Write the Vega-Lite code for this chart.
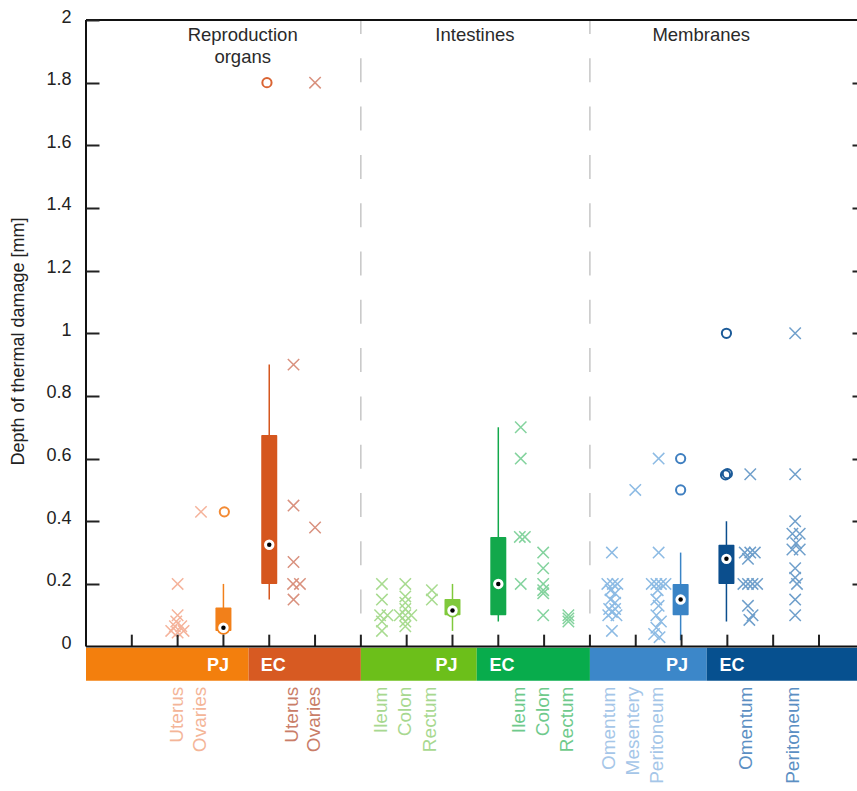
{
  "$schema": "https://vega.github.io/schema/vega-lite/v6.json",
  "width": 771,
  "height": 771,
  "autosize": {"type": "none"},
  "padding": {"left": 86, "top": 20, "right": 0, "bottom": 0},
  "background": "white",
  "config": {"view": {"stroke": null}, "font": "Liberation Sans", "axis": {"grid": false}, "scale": {"continuousPadding": 0}},
  "datasets": {
    "seps": [{"x": 6}, {"x": 11}],
    "xticks": [{"k": 1}, {"k": 2}, {"k": 3}, {"k": 4}, {"k": 5}, {"k": 6}, {"k": 7}, {"k": 8}, {"k": 9}, {"k": 10}, {"k": 11}, {"k": 12}, {"k": 13}, {"k": 14}, {"k": 15}, {"k": 16}],
    "crosses": [
      {"g": "RPJ", "x": 2.0, "v": 0.2}, {"g": "RPJ", "x": 2.0, "v": 0.1}, {"g": "RPJ", "x": 1.97, "v": 0.08}, {"g": "RPJ", "x": 1.94, "v": 0.065}, {"g": "RPJ", "x": 2.08, "v": 0.065}, {"g": "RPJ", "x": 1.86, "v": 0.05}, {"g": "RPJ", "x": 2.13, "v": 0.05}, {"g": "RPJ", "x": 2.0, "v": 0.045}, {"g": "RPJ", "x": 2.51, "v": 0.43},
      {"g": "REC", "x": 4.53, "v": 0.9}, {"g": "REC", "x": 4.53, "v": 0.45}, {"g": "REC", "x": 4.53, "v": 0.27}, {"g": "REC", "x": 4.52, "v": 0.2}, {"g": "REC", "x": 4.67, "v": 0.2}, {"g": "REC", "x": 4.53, "v": 0.15}, {"g": "REC", "x": 5.0, "v": 0.38}, {"g": "REC", "x": 5.0, "v": 1.8},
      {"g": "IPJ", "x": 6.46, "v": 0.2}, {"g": "IPJ", "x": 6.46, "v": 0.15}, {"g": "IPJ", "x": 6.42, "v": 0.1}, {"g": "IPJ", "x": 6.58, "v": 0.1}, {"g": "IPJ", "x": 6.46, "v": 0.08}, {"g": "IPJ", "x": 6.46, "v": 0.05},
      {"g": "IPJ", "x": 6.97, "v": 0.2}, {"g": "IPJ", "x": 6.97, "v": 0.16}, {"g": "IPJ", "x": 6.97, "v": 0.14}, {"g": "IPJ", "x": 6.97, "v": 0.12}, {"g": "IPJ", "x": 6.85, "v": 0.1}, {"g": "IPJ", "x": 7.1, "v": 0.1}, {"g": "IPJ", "x": 6.97, "v": 0.1}, {"g": "IPJ", "x": 6.97, "v": 0.08}, {"g": "IPJ", "x": 6.97, "v": 0.065},
      {"g": "IPJ", "x": 7.55, "v": 0.18}, {"g": "IPJ", "x": 7.55, "v": 0.15},
      {"g": "IEC", "x": 9.49, "v": 0.7}, {"g": "IEC", "x": 9.49, "v": 0.6}, {"g": "IEC", "x": 9.47, "v": 0.35}, {"g": "IEC", "x": 9.58, "v": 0.35}, {"g": "IEC", "x": 9.49, "v": 0.2},
      {"g": "IEC", "x": 9.98, "v": 0.3}, {"g": "IEC", "x": 9.98, "v": 0.25}, {"g": "IEC", "x": 9.98, "v": 0.2}, {"g": "IEC", "x": 9.98, "v": 0.18}, {"g": "IEC", "x": 9.98, "v": 0.17}, {"g": "IEC", "x": 9.98, "v": 0.1},
      {"g": "IEC", "x": 10.53, "v": 0.1}, {"g": "IEC", "x": 10.53, "v": 0.09}, {"g": "IEC", "x": 10.53, "v": 0.08},
      {"g": "MPJ", "x": 11.48, "v": 0.3}, {"g": "MPJ", "x": 11.38, "v": 0.2}, {"g": "MPJ", "x": 11.5, "v": 0.2}, {"g": "MPJ", "x": 11.6, "v": 0.2}, {"g": "MPJ", "x": 11.45, "v": 0.18}, {"g": "MPJ", "x": 11.55, "v": 0.17}, {"g": "MPJ", "x": 11.45, "v": 0.15}, {"g": "MPJ", "x": 11.55, "v": 0.14}, {"g": "MPJ", "x": 11.42, "v": 0.12}, {"g": "MPJ", "x": 11.55, "v": 0.12}, {"g": "MPJ", "x": 11.48, "v": 0.11}, {"g": "MPJ", "x": 11.4, "v": 0.1}, {"g": "MPJ", "x": 11.58, "v": 0.1}, {"g": "MPJ", "x": 11.48, "v": 0.05},
      {"g": "MPJ", "x": 11.99, "v": 0.5},
      {"g": "MPJ", "x": 12.5, "v": 0.6}, {"g": "MPJ", "x": 12.5, "v": 0.3}, {"g": "MPJ", "x": 12.35, "v": 0.2}, {"g": "MPJ", "x": 12.45, "v": 0.2}, {"g": "MPJ", "x": 12.55, "v": 0.2}, {"g": "MPJ", "x": 12.65, "v": 0.2}, {"g": "MPJ", "x": 12.48, "v": 0.18}, {"g": "MPJ", "x": 12.45, "v": 0.15}, {"g": "MPJ", "x": 12.5, "v": 0.13}, {"g": "MPJ", "x": 12.45, "v": 0.1}, {"g": "MPJ", "x": 12.55, "v": 0.08}, {"g": "MPJ", "x": 12.45, "v": 0.06}, {"g": "MPJ", "x": 12.4, "v": 0.04}, {"g": "MPJ", "x": 12.52, "v": 0.03},
      {"g": "MEC", "x": 14.5, "v": 0.55}, {"g": "MEC", "x": 14.38, "v": 0.3}, {"g": "MEC", "x": 14.5, "v": 0.3}, {"g": "MEC", "x": 14.6, "v": 0.3}, {"g": "MEC", "x": 14.45, "v": 0.28}, {"g": "MEC", "x": 14.35, "v": 0.2}, {"g": "MEC", "x": 14.45, "v": 0.2}, {"g": "MEC", "x": 14.55, "v": 0.2}, {"g": "MEC", "x": 14.65, "v": 0.2}, {"g": "MEC", "x": 14.45, "v": 0.13}, {"g": "MEC", "x": 14.55, "v": 0.1}, {"g": "MEC", "x": 14.48, "v": 0.085},
      {"g": "MEC", "x": 15.48, "v": 1.0}, {"g": "MEC", "x": 15.48, "v": 0.55}, {"g": "MEC", "x": 15.48, "v": 0.4}, {"g": "MEC", "x": 15.42, "v": 0.36}, {"g": "MEC", "x": 15.58, "v": 0.36}, {"g": "MEC", "x": 15.5, "v": 0.33}, {"g": "MEC", "x": 15.42, "v": 0.31}, {"g": "MEC", "x": 15.58, "v": 0.31}, {"g": "MEC", "x": 15.48, "v": 0.25}, {"g": "MEC", "x": 15.48, "v": 0.22}, {"g": "MEC", "x": 15.52, "v": 0.2}, {"g": "MEC", "x": 15.48, "v": 0.15}, {"g": "MEC", "x": 15.48, "v": 0.1}
    ],
    "outliers": [
      {"g": "RPJ", "x": 3.02, "v": 0.43}, {"g": "REC", "x": 3.95, "v": 1.8},
      {"g": "MPJ", "x": 12.98, "v": 0.6}, {"g": "MPJ", "x": 12.98, "v": 0.5},
      {"g": "MEC", "x": 13.98, "v": 1.0}, {"g": "MEC", "x": 13.96, "v": 0.548}, {"g": "MEC", "x": 14.0, "v": 0.552}
    ],
    "boxes": [
      {"g": "RPJ", "x": 3.0, "lo": 0.05, "q1": 0.05, "med": 0.06, "q3": 0.125, "hi": 0.2},
      {"g": "REC", "x": 4.0, "lo": 0.15, "q1": 0.2, "med": 0.325, "q3": 0.675, "hi": 0.9},
      {"g": "IPJ", "x": 8.0, "lo": 0.05, "q1": 0.1, "med": 0.115, "q3": 0.152, "hi": 0.2},
      {"g": "IEC", "x": 9.0, "lo": 0.08, "q1": 0.1, "med": 0.2, "q3": 0.35, "hi": 0.7},
      {"g": "MPJ", "x": 12.98, "lo": 0.02, "q1": 0.1, "med": 0.15, "q3": 0.2, "hi": 0.3},
      {"g": "MEC", "x": 13.98, "lo": 0.08, "q1": 0.2, "med": 0.28, "q3": 0.325, "hi": 0.4}
    ],
    "bands": [
      {"g": "RPJ", "a": 0, "b": 3.55}, {"g": "REC", "a": 3.55, "b": 6},
      {"g": "IPJ", "a": 6, "b": 8.53}, {"g": "IEC", "a": 8.53, "b": 11},
      {"g": "MPJ", "a": 11, "b": 13.55}, {"g": "MEC", "a": 13.55, "b": 16.83}
    ],
    "bandtext": [
      {"t": "PJ", "x": 2.88}, {"t": "EC", "x": 4.09},
      {"t": "PJ", "x": 7.87}, {"t": "EC", "x": 9.08},
      {"t": "PJ", "x": 12.9}, {"t": "EC", "x": 14.1}
    ],
    "labels": [
      {"g": "RPJ", "x": 1.99, "t": "Uterus"}, {"g": "RPJ", "x": 2.48, "t": "Ovaries"},
      {"g": "REC", "x": 4.5, "t": "Uterus"}, {"g": "REC", "x": 4.98, "t": "Ovaries"},
      {"g": "IPJ", "x": 6.43, "t": "Ileum"}, {"g": "IPJ", "x": 6.97, "t": "Colon"}, {"g": "IPJ", "x": 7.5, "t": "Rectum"},
      {"g": "IEC", "x": 9.45, "t": "Ileum"}, {"g": "IEC", "x": 9.98, "t": "Colon"}, {"g": "IEC", "x": 10.51, "t": "Rectum"},
      {"g": "MPJ", "x": 11.42, "t": "Omentum"}, {"g": "MPJ", "x": 11.93, "t": "Mesentery"}, {"g": "MPJ", "x": 12.46, "t": "Peritoneum"},
      {"g": "MEC", "x": 14.4, "t": "Omentum"}, {"g": "MEC", "x": 15.44, "t": "Peritoneum"}
    ],
    "headers": [
      {"x": 3.42, "t": "Reproduction\norgans"},
      {"x": 8.49, "t": "Intestines"},
      {"x": 13.43, "t": "Membranes"}
    ]
  },
  "layer": [
    {
      "data": {"name": "seps"},
      "mark": {"type": "rule", "color": "#b8b8b8", "strokeWidth": 1.2, "strokeDash": [24, 24.3], "strokeDashOffset": 10},
      "encoding": {
        "x": {"field": "x", "type": "quantitative", "scale": {"domain": [0, 16.83], "nice": false, "zero": false, "padding": 0},
          "axis": {"orient": "bottom", "offset": -156.1, "zindex": 1, "values": [1,2,3,4,5,6,7,8,9,10,11,12,13,14,15,16], "labels": false, "domain": false, "tickSize": 12, "tickWidth": 2, "tickColor": "#222", "title": null}},
        "y": {"datum": 2, "type": "quantitative", "scale": {"domain": [-0.461, 2], "nice": false, "zero": false},
          "axis": {"orient": "right", "offset": -771, "zindex": 1, "values": [0.2,0.4,0.6,0.8,1,1.2,1.4,1.6,1.8,2], "domain": false, "labels": false, "tickSize": 13, "tickWidth": 2, "tickColor": "#222", "title": null}},
        "y2": {"datum": 0}
      }
    },
    {
      "data": {"name": "crosses"},
      "mark": {"type": "point", "shape": "M-1,-1L1,1M-1,1L1,-1", "filled": false, "size": 130, "strokeWidth": 1.5, "opacity": 1},
      "encoding": {
        "x": {"field": "x", "type": "quantitative", "scale": {"domain": [0, 16.83], "nice": false, "zero": false, "padding": 0}, "axis": null},
        "y": {"field": "v", "type": "quantitative", "scale": {"domain": [-0.461, 2], "nice": false, "zero": false},
          "axis": {"orient": "left", "values": [0,0.2,0.4,0.6,0.8,1,1.2,1.4,1.6,1.8,2], "format": "~g", "domain": false, "ticks": false, "labelFontSize": 18, "labelColor": "#222", "labelPadding": 15, "labelOffset": -3, "labelFont": "Liberation Sans",
            "title": "Depth of thermal damage [mm]", "titleFont": "Liberation Sans", "titleFontSize": 18, "titleFontWeight": "normal", "titleColor": "#222", "titleX": -68, "titleY": 321, "titleAngle": -90, "titleBaseline": "middle", "titleAlign": "center"}},
        "color": {"field": "g", "type": "nominal", "legend": null,
          "scale": {"domain": ["RPJ", "REC", "IPJ", "IEC", "MPJ", "MEC"], "range": ["#f5b39b", "#d9917e", "#a8db90", "#84d39e", "#8dbbe4", "#6f9fcb"]}}
      }
    },
    {
      "data": {"name": "outliers"},
      "mark": {"type": "point", "shape": "circle", "filled": false, "size": 85, "strokeWidth": 2, "opacity": 1},
      "encoding": {
        "x": {"field": "x", "type": "quantitative", "scale": {"domain": [0, 16.83], "nice": false, "zero": false, "padding": 0}, "axis": null},
        "y": {"field": "v", "type": "quantitative", "scale": {"domain": [-0.461, 2], "nice": false, "zero": false}, "axis": null},
        "color": {"field": "g", "type": "nominal", "legend": null,
          "scale": {"domain": ["RPJ", "REC", "MPJ", "MEC"], "range": ["#f38a34", "#da6433", "#3f7fc0", "#1b5a98"]}}
      }
    },
    {
      "data": {"name": "boxes"},
      "mark": {"type": "rule", "strokeWidth": 1.5},
      "encoding": {
        "x": {"field": "x", "type": "quantitative", "scale": {"domain": [0, 16.83], "nice": false, "zero": false, "padding": 0}, "axis": null},
        "y": {"field": "lo", "type": "quantitative", "scale": {"domain": [-0.461, 2], "nice": false, "zero": false},
          "axis": {"orient": "left", "offset": -771, "zindex": 1, "values": [0.2,0.4,0.6,0.8,1,1.2,1.4,1.6,1.8], "domain": false, "labels": false, "tickSize": 5, "tickWidth": 2, "tickColor": "#222", "title": null}},
        "y2": {"field": "hi"},
        "color": {"field": "g", "type": "nominal", "legend": null,
          "scale": {"domain": ["RPJ", "REC", "IPJ", "IEC", "MPJ", "MEC"], "range": ["#f2801a", "#d5561e", "#80c93c", "#12a84b", "#3a84c6", "#0b4e8d"]}}
      }
    },
    {
      "data": {"name": "boxes"},
      "mark": {"type": "bar", "size": 16, "cornerRadius": 1},
      "encoding": {
        "x": {"field": "x", "type": "quantitative", "scale": {"domain": [0, 16.83], "nice": false, "zero": false, "padding": 0}, "axis": null},
        "y": {"field": "q1", "type": "quantitative", "scale": {"domain": [-0.461, 2], "nice": false, "zero": false}, "axis": null},
        "y2": {"field": "q3"},
        "color": {"field": "g", "type": "nominal", "legend": null,
          "scale": {"domain": ["RPJ", "REC", "IPJ", "IEC", "MPJ", "MEC"], "range": ["#f2801a", "#d5561e", "#80c93c", "#12a84b", "#3a84c6", "#0b4e8d"]}}
      }
    },
    {
      "data": {"name": "boxes"},
      "mark": {"type": "point", "shape": "circle", "filled": true, "fill": "white", "fillOpacity": 1, "size": 150, "strokeWidth": 1.8, "opacity": 1},
      "encoding": {
        "x": {"field": "x", "type": "quantitative", "scale": {"domain": [0, 16.83], "nice": false, "zero": false, "padding": 0}, "axis": null},
        "y": {"field": "med", "type": "quantitative", "scale": {"domain": [-0.461, 2], "nice": false, "zero": false}, "axis": null},
        "stroke": {"field": "g", "type": "nominal", "legend": null,
          "scale": {"domain": ["RPJ", "REC", "IPJ", "IEC", "MPJ", "MEC"], "range": ["#f2801a", "#d5561e", "#80c93c", "#12a84b", "#3a84c6", "#0b4e8d"]}}
      }
    },
    {
      "data": {"name": "boxes"},
      "mark": {"type": "point", "shape": "circle", "filled": true, "color": "black", "size": 20, "opacity": 1},
      "encoding": {
        "x": {"field": "x", "type": "quantitative", "scale": {"domain": [0, 16.83], "nice": false, "zero": false, "padding": 0}, "axis": null},
        "y": {"field": "med", "type": "quantitative", "scale": {"domain": [-0.461, 2], "nice": false, "zero": false}, "axis": null}
      }
    },
    {
      "data": {"name": "bands"},
      "mark": {"type": "rect"},
      "encoding": {
        "x": {"field": "a", "type": "quantitative", "scale": {"domain": [0, 16.83], "nice": false, "zero": false, "padding": 0}, "axis": null},
        "x2": {"field": "b"},
        "y": {"datum": -0.004, "type": "quantitative", "scale": {"domain": [-0.461, 2], "nice": false, "zero": false}, "axis": null},
        "y2": {"datum": -0.109},
        "color": {"field": "g", "type": "nominal", "legend": null,
          "scale": {"domain": ["RPJ", "REC", "IPJ", "IEC", "MPJ", "MEC"], "range": ["#f37f0d", "#d75a22", "#6cbf1a", "#08ac4c", "#3c87c9", "#06508f"]}}
      }
    },
    {
      "data": {"name": "bandtext"},
      "mark": {"type": "text", "color": "white", "fontSize": 18, "fontWeight": "bold", "font": "Liberation Sans", "align": "center", "baseline": "alphabetic"},
      "encoding": {
        "x": {"field": "x", "type": "quantitative", "scale": {"domain": [0, 16.83], "nice": false, "zero": false, "padding": 0}, "axis": null},
        "y": {"datum": -0.079, "type": "quantitative", "scale": {"domain": [-0.461, 2], "nice": false, "zero": false}, "axis": null},
        "text": {"field": "t", "type": "nominal"}
      }
    },
    {
      "data": {"name": "labels"},
      "mark": {"type": "text", "fontSize": 19, "font": "Liberation Sans", "angle": 270, "align": "right", "baseline": "middle"},
      "encoding": {
        "x": {"field": "x", "type": "quantitative", "scale": {"domain": [0, 16.83], "nice": false, "zero": false, "padding": 0}, "axis": null},
        "y": {"datum": -0.128, "type": "quantitative", "scale": {"domain": [-0.461, 2], "nice": false, "zero": false}, "axis": null},
        "text": {"field": "t", "type": "nominal"},
        "color": {"field": "g", "type": "nominal", "legend": null,
          "scale": {"domain": ["RPJ", "REC", "IPJ", "IEC", "MPJ", "MEC"], "range": ["#f4b598", "#c97d68", "#a8d890", "#6fca8c", "#a5c6e8", "#5b8fc3"]}}
      }
    },
    {
      "data": {"name": "headers"},
      "mark": {"type": "text", "fontSize": 18.5, "font": "Liberation Sans", "color": "#2a2a2a", "align": "center", "baseline": "alphabetic", "lineBreak": "\n", "lineHeight": 22},
      "encoding": {
        "x": {"field": "x", "type": "quantitative", "scale": {"domain": [0, 16.83], "nice": false, "zero": false, "padding": 0}, "axis": null},
        "y": {"datum": 1.932, "type": "quantitative", "scale": {"domain": [-0.461, 2], "nice": false, "zero": false}, "axis": null},
        "text": {"field": "t", "type": "nominal"}
      }
    },
    {
      "data": {"name": "xticks"},
      "mark": {"type": "rule", "color": "#222", "strokeWidth": 2},
      "encoding": {
        "x": {"field": "k", "type": "quantitative", "scale": {"domain": [0, 16.83], "nice": false, "zero": false, "padding": 0}, "axis": null},
        "y": {"datum": 0, "type": "quantitative", "scale": {"domain": [-0.461, 2], "nice": false, "zero": false}, "axis": null},
        "y2": {"datum": 0.038}
      }
    },
    {
      "data": {"values": [{"z": 0}]},
      "mark": {"type": "rule", "color": "#111", "strokeWidth": 2},
      "encoding": {
        "x": {"datum": 0, "type": "quantitative", "scale": {"domain": [0, 16.83], "nice": false, "zero": false, "padding": 0}, "axis": null},
        "y": {"datum": 0, "type": "quantitative", "scale": {"domain": [-0.461, 2], "nice": false, "zero": false}, "axis": null},
        "y2": {"datum": 2}
      }
    },
    {
      "data": {"values": [{"z": 0}]},
      "mark": {"type": "rule", "color": "#111", "strokeWidth": 2},
      "encoding": {
        "x": {"datum": 0, "type": "quantitative", "scale": {"domain": [0, 16.83], "nice": false, "zero": false, "padding": 0}, "axis": null},
        "x2": {"datum": 16.83},
        "y": {"datum": 2, "type": "quantitative", "scale": {"domain": [-0.461, 2], "nice": false, "zero": false}, "axis": null}
      }
    },
    {
      "data": {"values": [{"z": 0}]},
      "mark": {"type": "rule", "color": "#111", "strokeWidth": 2},
      "encoding": {
        "x": {"datum": 0, "type": "quantitative", "scale": {"domain": [0, 16.83], "nice": false, "zero": false, "padding": 0}, "axis": null},
        "x2": {"datum": 16.83},
        "y": {"datum": 0, "type": "quantitative", "scale": {"domain": [-0.461, 2], "nice": false, "zero": false}, "axis": null}
      }
    }
  ],
  "resolve": {"scale": {"color": "independent", "stroke": "independent"}, "axis": {"y": "independent"}}
}
